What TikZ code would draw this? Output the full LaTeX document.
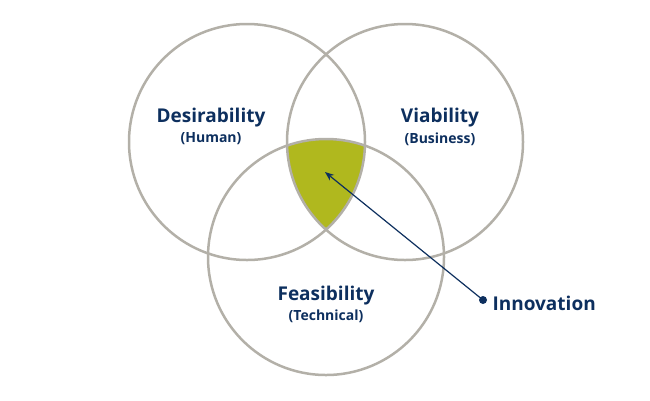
\documentclass[tikz,border=0pt]{standalone}
\usepackage{fontspec}
\setmainfont{Open Sans}
\usetikzlibrary{arrows.meta}
\definecolor{navy}{HTML}{0D2F5E}
\definecolor{olive}{HTML}{B0B81E}
\definecolor{ring}{HTML}{B3B0A8}
\tikzset{
  setring/.style={circle, draw=ring, line width=2.5pt, minimum size=236pt, inner sep=0pt},
  title/.style={text=navy, font=\bfseries\fontsize{19}{21}\selectfont, align=center},
  sub/.style={text=navy, font=\bfseries\fontsize{14}{16}\selectfont}
}
\begin{document}
\begin{tikzpicture}[x=1pt,y=-1pt]
\useasboundingbox (0,0) rectangle (650,400);
% the shared part of all three sets
\begin{scope}
\clip (247,142) circle(118);
\clip (405,142) circle(118);
\fill[olive] (326,257) circle(118);
\end{scope}
\node[setring] (human) at (247,142) {};
\node[setring] (business) at (405,142) {};
\node[setring] (tech) at (326,257) {};
\node[title] (des) at (211,118) {Desirability};
\node[sub] at (211,139) {(Human)};
\node[title] (via) at (440,118) {Viability};
\node[sub] at (440,139) {(Business)};
\node[title] (fea) at (326,296) {Feasibility};
\node[sub] at (326,316) {(Technical)};
\coordinate (tip) at (325,172);
\fill[navy] (483,300) circle(4) coordinate (dot);
\node[title, anchor=west] (inno) at (489,303) {Innovation};
\draw[navy, line width=1.2pt, -{Stealth[length=9pt,width=7pt]}] (dot) -- (tip);
\end{tikzpicture}
\end{document}
